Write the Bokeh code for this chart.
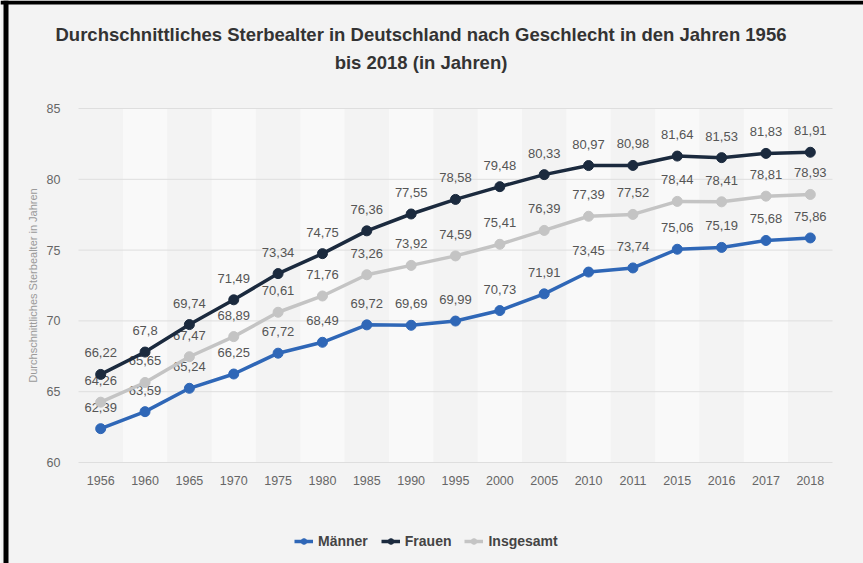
import math
from bokeh.plotting import figure
from bokeh.models import Legend, LegendItem, Label, Range1d, ColumnDataSource
from bokeh.core.properties import value
from bokeh.embed import file_html
from bokeh.resources import INLINE

years = ["1956", "1960", "1965", "1970", "1975", "1980", "1985", "1990", "1995",
         "2000", "2005", "2010", "2011", "2015", "2016", "2017", "2018"]
maenner = [62.39, 63.59, 65.24, 66.25, 67.72, 68.49, 69.72, 69.69, 69.99,
           70.73, 71.91, 73.45, 73.74, 75.06, 75.19, 75.68, 75.86]
frauen = [66.22, 67.8, 69.74, 71.49, 73.34, 74.75, 76.36, 77.55, 78.58,
          79.48, 80.33, 80.97, 80.98, 81.64, 81.53, 81.83, 81.91]
insgesamt = [64.26, 65.65, 67.47, 68.89, 70.61, 71.76, 73.26, 73.92, 74.59,
             75.41, 76.39, 77.39, 77.52, 78.44, 78.41, 78.81, 78.93]
series_names = ["Männer", "Frauen", "Insgesamt"]
y_ticks = [60, 65, 70, 75, 80, 85]
title_lines = ["Durchschnittliches Sterbealter in Deutschland nach Geschlecht in den Jahren 1956",
               "bis 2018 (in Jahren)"]
y_label = "Durchschnittliches Sterbealter in Jahren"

FONT = "Liberation Sans"
BG = "#f3f3f3"
colors = {"Männer": "#2f67b7", "Frauen": "#1b2a3e", "Insgesamt": "#c4c4c4"}

W, H = 863, 563
LEFT_PX, RIGHT_PX = 78, 832        # plot area edges (pixels)
TOP_PX, BOT_PX = 108, 462          # pixel rows of the 85 and 60 grid lines
n = len(years)
xs = list(range(n))
ppx = (RIGHT_PX - LEFT_PX) / n
ppu = (BOT_PX - TOP_PX) / (y_ticks[-1] - y_ticks[0])
x_lo = -0.5 - LEFT_PX / ppx
x_hi = n - 0.5 + (W - RIGHT_PX) / ppx
y_hi = y_ticks[-1] + TOP_PX / ppu
y_lo = y_ticks[0] - (H - BOT_PX) / ppu


def px_x(px):
    return x_lo + px / ppx


def px_y(px):
    return y_hi - px / ppu


p = figure(width=W, height=H, title=None,
           x_range=Range1d(x_lo, x_hi), y_range=Range1d(y_lo, y_hi),
           output_backend="svg", toolbar_location=None,
           min_border_left=0, min_border_right=0, min_border_top=0, min_border_bottom=0,
           background_fill_color=BG, border_fill_color=BG, outline_line_color=None)
p.axis.visible = False
p.grid.visible = False

# screenshot frame edges (black bars top and left)
p.quad(left=[px_x(0), px_x(3)], right=[px_x(W), px_x(8)],
       top=[px_y(0), px_y(0)], bottom=[px_y(4), px_y(H)],
       fill_color="black", line_color=None)

# alternating column bands
band_x = xs[1::2]
p.vbar(x=band_x, width=1, bottom=y_ticks[0], top=y_ticks[-1],
       fill_color="#f9f9f9", line_color=None)

# horizontal grid lines
p.segment(x0=[-0.5] * len(y_ticks), x1=[n - 0.5] * len(y_ticks), y0=y_ticks, y1=y_ticks,
          line_color="#dedede", line_width=1)

# y tick labels
p.text(x=[-0.5] * len(y_ticks), y=y_ticks, text=[str(t) for t in y_ticks],
       text_align="right", text_baseline="middle", x_offset=-18,
       text_font=value(FONT), text_font_size="12.5px", text_color="#666666")

# y axis title
p.text(x=[-0.5], y=[(y_ticks[0] + y_ticks[-1]) / 2], text=[y_label], angle=math.pi / 2,
       text_align="center", text_baseline="middle", x_offset=-(LEFT_PX - 32),
       text_font=value(FONT), text_font_size="11px", text_color="#9a9a9a")

# x tick labels (years) just below the 60 line
p.text(x=xs, y=[y_ticks[0]] * n, text=years, text_align="center",
       text_baseline="top", y_offset=13, text_font=value(FONT), text_font_size="12.5px",
       text_color="#666666")

data = {"Männer": maenner, "Frauen": frauen, "Insgesamt": insgesamt}

# value labels first (lines drawn over them)
for name in series_names:
    vals = data[name]
    src = ColumnDataSource(dict(x=xs, y=vals,
                                t=[f"{v:g}".replace(".", ",") for v in vals]))
    p.text(x="x", y="y", text="t", source=src, text_align="center", text_baseline="bottom",
           y_offset=-17, text_font=value(FONT), text_font_size="13px", text_color="#555555")

items = []
for name in series_names:
    vals = data[name]
    lr = p.line(xs, vals, line_width=3.5, line_color=colors[name])
    sr = p.scatter(xs, vals, size=10, fill_color=colors[name], line_color=colors[name])
    items.append(LegendItem(label=name, renderers=[lr, sr]))

legend = Legend(items=items, orientation="horizontal", location=(294, 14),
                background_fill_alpha=0, border_line_alpha=0,
                label_text_font=FONT, label_text_font_size="14px",
                label_text_font_style="bold", label_text_color="#444444",
                glyph_width=19, glyph_height=14, label_standoff=5, spacing=13,
                padding=0, margin=0)
p.add_layout(legend, "center")

# title (two centred lines)
for txt, row in zip(title_lines, [34, 62]):
    p.add_layout(Label(x=px_x(420.5), y=px_y(row), text=txt, text_align="center",
                       text_baseline="middle", text_font=FONT, text_font_size="18.5px",
                       text_font_style="bold", text_color="#333333"))

open("out.html", "w").write(file_html(p, INLINE))
